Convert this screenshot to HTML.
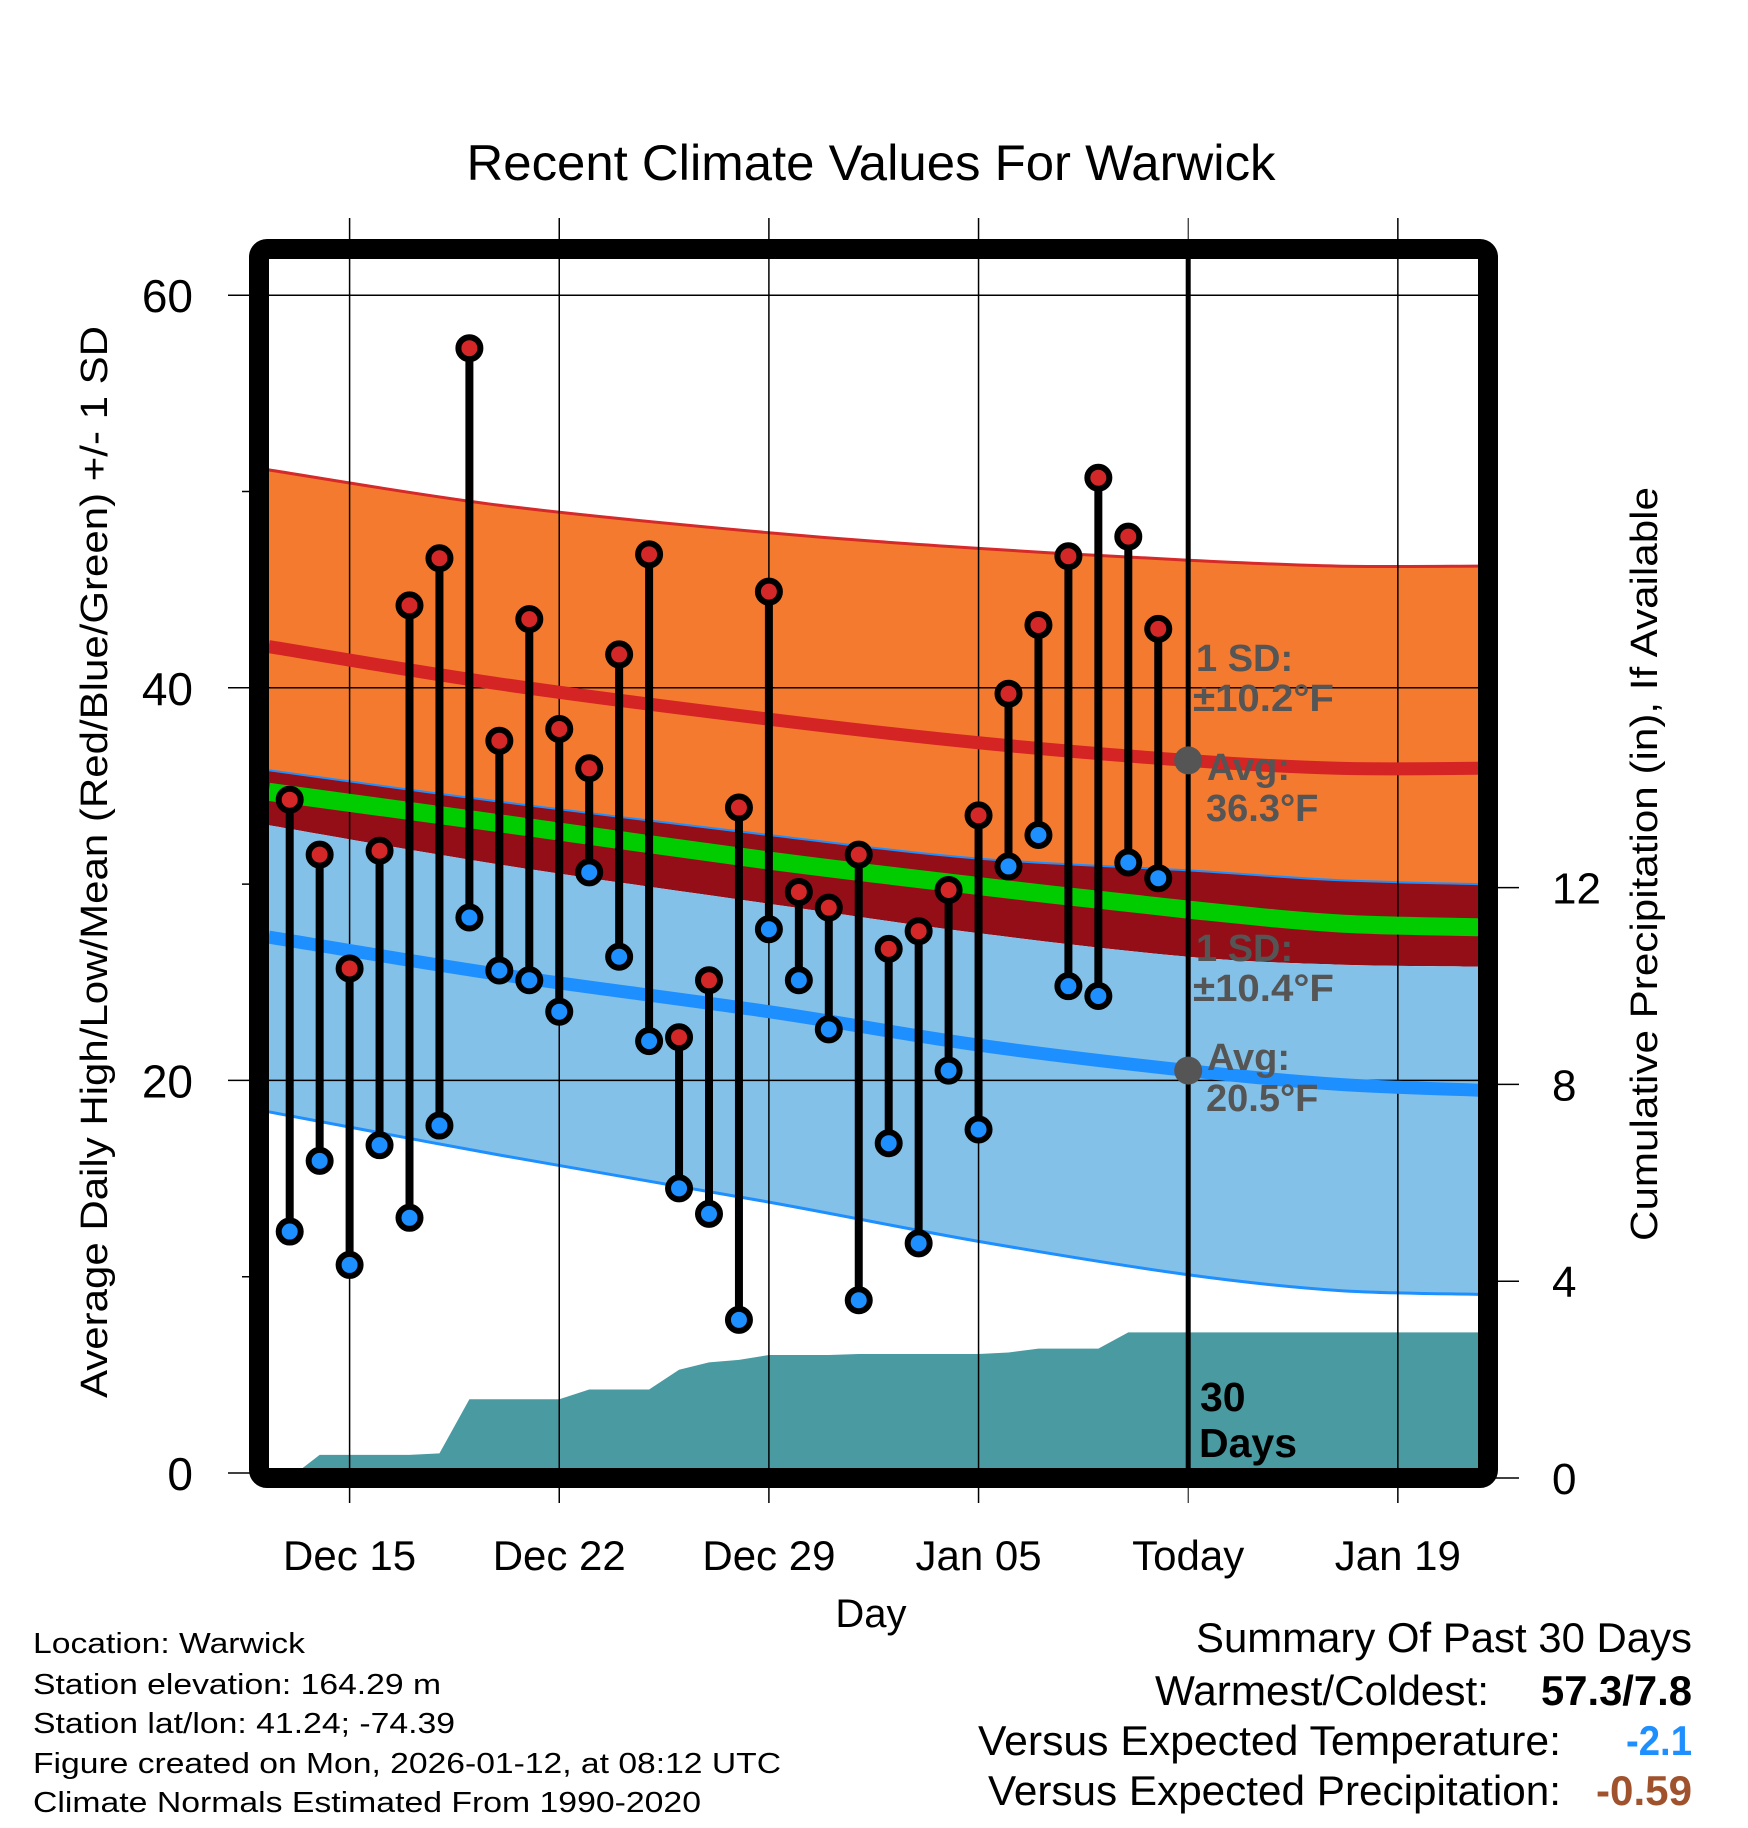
<!DOCTYPE html>
<html><head><meta charset="utf-8"><style>
html,body{margin:0;padding:0;background:#fff;}
svg{display:block;font-family:"Liberation Sans",Arial,sans-serif;}
</style></head><body>
<svg id="chart" width="1748" height="1828" viewBox="0 0 1748 1828" xmlns="http://www.w3.org/2000/svg">
<defs><clipPath id="plotclip"><rect x="269" y="259" width="1209" height="1209"/></clipPath></defs>
<g id="bands" clip-path="url(#plotclip)"></g>
<g id="precip" clip-path="url(#plotclip)"></g>
<g id="grid"></g>
<g id="normlines" clip-path="url(#plotclip)"></g>
<g id="marks"></g>
<rect x="259" y="249" width="1229" height="1229" rx="8" fill="none" stroke="#000" stroke-width="20"/>
<g id="axes"></g>
<text x="871" y="180" font-size="50" text-anchor="middle" textLength="809" lengthAdjust="spacingAndGlyphs">Recent Climate Values For Warwick</text>
<text x="871" y="1627" font-size="40" text-anchor="middle">Day</text>
<text transform="translate(107,862) rotate(-90)" font-size="38" text-anchor="middle" textLength="1072" lengthAdjust="spacingAndGlyphs">Average Daily High/Low/Mean (Red/Blue/Green) +/- 1 SD</text>
<text transform="translate(1657,864) rotate(-90)" font-size="38" text-anchor="middle" textLength="754" lengthAdjust="spacingAndGlyphs">Cumulative Precipitation (in), If Available</text>
<g font-size="38" font-weight="bold" fill="#555">
<text x="1196" y="671">1 SD:</text>
<text x="1193" y="711" textLength="141" lengthAdjust="spacingAndGlyphs">±10.2°F</text>
<text x="1207" y="780">Avg:</text>
<text x="1206" y="821">36.3°F</text>
<text x="1196" y="961">1 SD:</text>
<text x="1193" y="1001" textLength="141" lengthAdjust="spacingAndGlyphs">±10.4°F</text>
<text x="1207" y="1070">Avg:</text>
<text x="1206" y="1111">20.5°F</text>
</g>
<g font-size="41" font-weight="bold" fill="#000">
<text x="1200" y="1411">30</text><text x="1199" y="1457" textLength="98" lengthAdjust="spacingAndGlyphs">Days</text>
</g>
<g font-size="29" fill="#000">
<text x="33" y="1653" textLength="272" lengthAdjust="spacingAndGlyphs">Location: Warwick</text>
<text x="33" y="1694" textLength="408" lengthAdjust="spacingAndGlyphs">Station elevation: 164.29 m</text>
<text x="33" y="1733" textLength="422" lengthAdjust="spacingAndGlyphs">Station lat/lon: 41.24; -74.39</text>
<text x="33" y="1773" textLength="748" lengthAdjust="spacingAndGlyphs">Figure created on Mon, 2026-01-12, at 08:12 UTC</text>
<text x="33" y="1812" textLength="668" lengthAdjust="spacingAndGlyphs">Climate Normals Estimated From 1990-2020</text>
</g>
<g font-size="42" fill="#000">
<text x="1692" y="1652" text-anchor="end" textLength="496" lengthAdjust="spacingAndGlyphs">Summary Of Past 30 Days</text>
<text x="1489" y="1705" text-anchor="end" textLength="334" lengthAdjust="spacingAndGlyphs">Warmest/Coldest:</text>
<text x="1692" y="1705" text-anchor="end" font-weight="bold" textLength="151" lengthAdjust="spacingAndGlyphs">57.3/7.8</text>
<text x="1561" y="1755" text-anchor="end" textLength="583" lengthAdjust="spacingAndGlyphs">Versus Expected Temperature:</text>
<text x="1692" y="1755" text-anchor="end" font-weight="bold" fill="#1e8fff" textLength="66" lengthAdjust="spacingAndGlyphs">-2.1</text>
<text x="1561" y="1805" text-anchor="end" textLength="573" lengthAdjust="spacingAndGlyphs">Versus Expected Precipitation:</text>
<text x="1692" y="1805" text-anchor="end" font-weight="bold" fill="#a0522d" textLength="96" lengthAdjust="spacingAndGlyphs">-0.59</text>
</g>
</svg>
<script>
// data
const dayLabels = ["Dec 15","Dec 22","Dec 29","Jan 05","Today","Jan 19"];
const dayTicks = [0,7,14,21,28,35];
const obsDays = [-2,-1,0,1,2,3,4,5,6,7,8,9,10,11,12,13,14,15,16,17,18,19,20,21,22,23,24,25,26,27];
const highs = [34.3,31.5,25.7,31.7,44.2,46.6,57.3,37.3,43.5,37.9,35.9,41.7,46.8,22.2,25.1,33.9,44.9,29.6,28.8,31.5,26.7,27.6,29.7,33.5,39.7,43.2,46.7,50.7,47.7,43.0];
const lows = [12.3,15.9,10.6,16.7,13.0,17.7,28.3,25.6,25.1,23.5,30.6,26.3,22.0,14.5,13.2,7.8,27.7,25.1,22.6,8.8,16.8,11.7,20.5,17.5,30.9,32.5,24.8,24.3,31.1,30.3];
const precip = [0,0.47,0.47,0.47,0.47,0.5,1.6,1.6,1.6,1.6,1.8,1.8,1.8,2.2,2.35,2.4,2.5,2.5,2.5,2.52,2.52,2.52,2.52,2.52,2.55,2.63,2.63,2.63,2.96,2.96];
const normDays = [-2.7,5,14,21,28,33,37.7];
const highUp = [51.1,49.3,47.9,47.1,46.5,46.2,46.2];
const normHigh = [42.1,40.2,38.4,37.2,36.3,35.9,35.9];
const highDn = [35.8,34.2,32.5,31.3,30.7,30.2,30.0];
const meanT = [34.7,33.1,31.2,29.9,28.7,28.0,27.8];
const lowUp = [33.0,31.0,29.0,27.5,26.3,25.9,25.8];
const normLow = [27.3,25.4,23.5,21.8,20.5,19.8,19.5];
const lowDn = [18.4,16.2,13.8,11.8,10.1,9.3,9.1];
const yTicks = [0,20,40,60];
const yMinor = [10,30,50];
const pTicks = [0,4,8,12];

const NS="http://www.w3.org/2000/svg";
const X = d => 349.6 + 29.95*d;
const Y = v => 1473 - 19.63*v;
const P = p => 1478 - 49.2*p;
function mk(tag, attrs, parent){const e=document.createElementNS(NS,tag);for(const k in attrs)e.setAttribute(k,attrs[k]);parent.appendChild(e);return e;}
function smooth(xs, ys){
  const pts=xs.map((x,i)=>[x,ys[i]]);let d=`M${pts[0][0]},${pts[0][1]}`;
  for(let i=0;i<pts.length-1;i++){const p0=pts[Math.max(0,i-1)],p1=pts[i],p2=pts[i+1],p3=pts[Math.min(pts.length-1,i+2)];
    d+=` C${p1[0]+(p2[0]-p0[0])/6},${p1[1]+(p2[1]-p0[1])/6} ${p2[0]-(p3[0]-p1[0])/6},${p2[1]-(p3[1]-p1[1])/6} ${p2[0]},${p2[1]}`;}
  return d;}
function band(upper, lower){
  const xs=normDays.map(X);
  const up=smooth(xs, upper.map(Y));
  const rx=xs.slice().reverse(), rl=lower.slice().reverse().map(Y);
  const lo=smooth(rx, rl).replace(/^M/,' L');
  return up+lo+' Z';}
const bands=document.getElementById('bands');
let e;
e=mk('path',{d:band(highUp,highDn),fill:'#f47a30'},bands);


e=mk('path',{d:band(highDn,lowUp),fill:'#940e17'},bands);


e=mk('path',{d:band(lowUp,lowDn),fill:'#84c1e8'},bands);


e=mk('path',{d:smooth(normDays.map(X),highUp.map(Y)),fill:'none',stroke:'#d42a2a',"stroke-width":3},bands);


e=mk('path',{d:smooth(normDays.map(X),highDn.map(Y)),fill:'none',stroke:'#1e8fff',"stroke-width":2},bands);


e=mk('path',{d:smooth(normDays.map(X),lowDn.map(Y)),fill:'none',stroke:'#1e8fff',"stroke-width":3},bands);



const pg=document.getElementById('precip');
let pd=`M${X(-1.6)},${P(0)}`;
obsDays.forEach((d,i)=>{pd+=` L${X(d)},${P(precip[i])}`;});
pd+=` L${X(38)},${P(precip[precip.length-1])} L${X(38)},${P(0)} Z`;
e=mk('path',{d:pd,fill:'#4a9aa2'},pg);



const grid=document.getElementById('grid');
dayTicks.forEach((d,i)=>{
  e=mk('line',{x1:X(d),x2:X(d),y1:218,y2:1503,stroke:'#000','stroke-width':i===4?1:1.5},grid);
  
  
});
yTicks.forEach(v=>{
  e=mk('line',{x1:228,x2:1478,y1:Y(v),y2:Y(v),stroke:'#000','stroke-width':1.5},grid);
  
  
});
yMinor.forEach(v=>{
  e=mk('line',{x1:242,x2:262,y1:Y(v),y2:Y(v),stroke:'#000','stroke-width':1.5},grid);
  
  
});
pTicks.forEach(p=>{
  e=mk('line',{x1:1490,x2:1519,y1:P(p),y2:P(p),stroke:'#000','stroke-width':1.5},grid);
  
  
});

const nl=document.getElementById('normlines');
e=mk('path',{d:smooth(normDays.map(X),meanT.map(Y)),fill:'none',stroke:'#00cc00','stroke-width':18},nl);


e=mk('path',{d:smooth(normDays.map(X),normHigh.map(Y)),fill:'none',stroke:'#d42424','stroke-width':13},nl);


e=mk('path',{d:smooth(normDays.map(X),normLow.map(Y)),fill:'none',stroke:'#1e8fff','stroke-width':13},nl);


e=mk('line',{x1:X(28),x2:X(28),y1:259,y2:1468,stroke:'#000','stroke-width':5},nl);


e=mk('circle',{cx:X(28),cy:Y(36.3),r:14,fill:'#555'},nl);


e=mk('circle',{cx:X(28),cy:Y(20.5),r:14,fill:'#555'},nl);



const marks=document.getElementById('marks');
obsDays.forEach((d,i)=>{
  e=mk('line',{x1:X(d),x2:X(d),y1:Y(highs[i]),y2:Y(lows[i]),stroke:'#000','stroke-width':8},marks);
  
  
});
obsDays.forEach((d,i)=>{
  e=mk('circle',{cx:X(d),cy:Y(highs[i]),r:11,fill:'#d42828',stroke:'#000','stroke-width':6},marks);
  
  
  e=mk('circle',{cx:X(d),cy:Y(lows[i]),r:11,fill:'#1e8fff',stroke:'#000','stroke-width':6},marks);
  
  
});

const axes=document.getElementById('axes');
dayTicks.forEach((d,i)=>{
  e=mk('text',{x:X(d),y:1570,'font-size':42,'text-anchor':'middle'},axes);
  e.textContent=dayLabels[i];
  
  
});
yTicks.forEach(v=>{
  e=mk('text',{x:193,y:Y(v)+17,'font-size':46,'text-anchor':'end'},axes);
  e.textContent=String(v);
  
  
});
pTicks.forEach(p=>{
  e=mk('text',{x:1552,y:P(p)+16,'font-size':44,'text-anchor':'start'},axes);
  e.textContent=String(p);
  
  
});
</script>
</body></html>
